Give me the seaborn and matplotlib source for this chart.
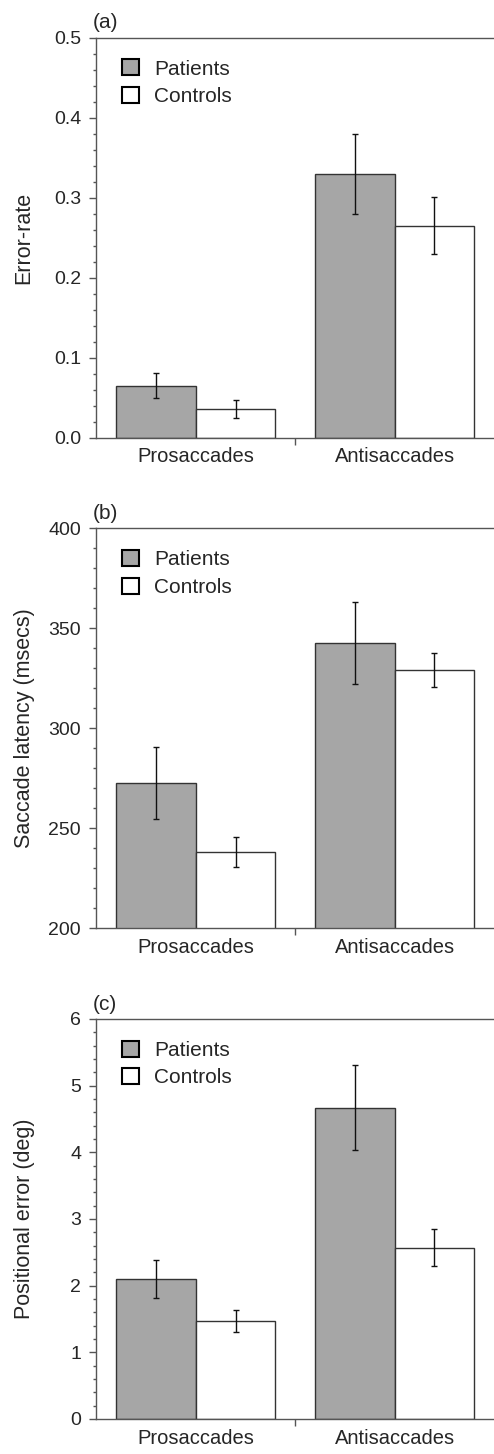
import seaborn as sns
import matplotlib.pyplot as plt
import pandas as pd
from matplotlib.ticker import MultipleLocator

# data
tasks = ['Prosaccades', 'Antisaccades']
groups = ['Patients', 'Controls']

error_rate = {'Patients': [0.065, 0.329], 'Controls': [0.036, 0.265]}
error_rate_err = {'Patients': [0.016, 0.050], 'Controls': [0.011, 0.036]}

latency = {'Patients': [272.7, 342.7], 'Controls': [238.3, 329.3]}
latency_err = {'Patients': [18.0, 20.5], 'Controls': [7.5, 8.5]}

pos_error = {'Patients': [2.10, 4.67], 'Controls': [1.47, 2.57]}
pos_error_err = {'Patients': [0.28, 0.64], 'Controls': [0.16, 0.28]}

panels = [
    ('(a)', 'Error-rate', error_rate, error_rate_err, (0.0, 0.5), 0.1, 0.02, '{:.1f}'),
    ('(b)', 'Saccade latency (msecs)', latency, latency_err, (200, 400), 50, 10, '{:.0f}'),
    ('(c)', 'Positional error (deg)', pos_error, pos_error_err, (0, 6), 1, 0.2, '{:.0f}'),
]

sns.set_style('ticks')
plt.rcParams['font.family'] = ['Liberation Sans', 'DejaVu Sans']

fig = plt.figure(figsize=(4.94, 14.54), dpi=100)
bottoms = [0.699, 0.3616, 0.0241]
palette = {'Patients': '#a6a6a6', 'Controls': '#ffffff'}
edge = '#333333'
spine_col = '#555555'


def make_frame(vals):
    rows = []
    for g in groups:
        for t, v in zip(tasks, vals[g]):
            rows.append({'task': t, 'group': g, 'value': v})
    return pd.DataFrame(rows)


for (tag, ylabel, vals, errs, ylim, major, minor, fmt), b in zip(panels, bottoms):
    ax = fig.add_axes([0.195, b, 0.805, 0.2751])
    df = make_frame(vals)
    sns.barplot(data=df, x='task', y='value', hue='group', order=tasks,
                hue_order=groups, palette=palette, errorbar=None,
                edgecolor=edge, linewidth=1.0, width=0.8, gap=0,
                ax=ax, zorder=2)
    # error bars at the bar centres
    for cont, g in zip(ax.containers, groups):
        xs = [p.get_x() + p.get_width() / 2 for p in cont.patches]
        ys = [p.get_y() + p.get_height() for p in cont.patches]
        ax.errorbar(xs, ys, yerr=errs[g], fmt='none', ecolor='#111111',
                    elinewidth=1.0, capsize=2, capthick=1.0, zorder=3)

    ax.set_xlim(-0.5, 1.5)
    ax.set_ylim(*ylim)
    ax.yaxis.set_major_locator(MultipleLocator(major))
    ax.yaxis.set_minor_locator(MultipleLocator(minor))
    ax.set_yticklabels([fmt.format(v) for v in ax.get_yticks()])
    ax.set_ylim(*ylim)
    ax.set_xticks([0, 1])
    ax.set_xticklabels(tasks)
    ax.set_xticks([0.5], minor=True)
    ax.tick_params(axis='x', which='major', length=0, pad=7, labelsize=14.5)
    ax.tick_params(axis='x', which='minor', length=5, width=1, color=spine_col)
    ax.tick_params(axis='y', which='major', length=5, width=1, pad=6,
                   labelsize=14, color=spine_col)
    ax.tick_params(axis='y', which='minor', length=2.5, width=1, color=spine_col)

    for s in ['left', 'bottom', 'top']:
        ax.spines[s].set_visible(True)
        ax.spines[s].set_color(spine_col)
        ax.spines[s].set_linewidth(1.0)
    ax.spines['right'].set_visible(False)

    ax.set_xlabel('')
    ax.set_ylabel(ylabel, fontsize=15.5)
    ax.yaxis.set_label_coords(-0.155, 0.5)

    ax.text(-0.01, 1.037, tag, transform=ax.transAxes, fontsize=15,
            ha='left', va='center')

    ax.legend(loc='upper left', bbox_to_anchor=(0.028, 0.982), frameon=False,
              fontsize=15, handlelength=0.8, handleheight=0.8,
              handletextpad=0.75, labelspacing=0.4, borderaxespad=0.3)
    for h in ax.get_legend().get_patches():
        h.set_edgecolor('black')
        h.set_linewidth(1.5)

fig.savefig('out.png', dpi=100)
